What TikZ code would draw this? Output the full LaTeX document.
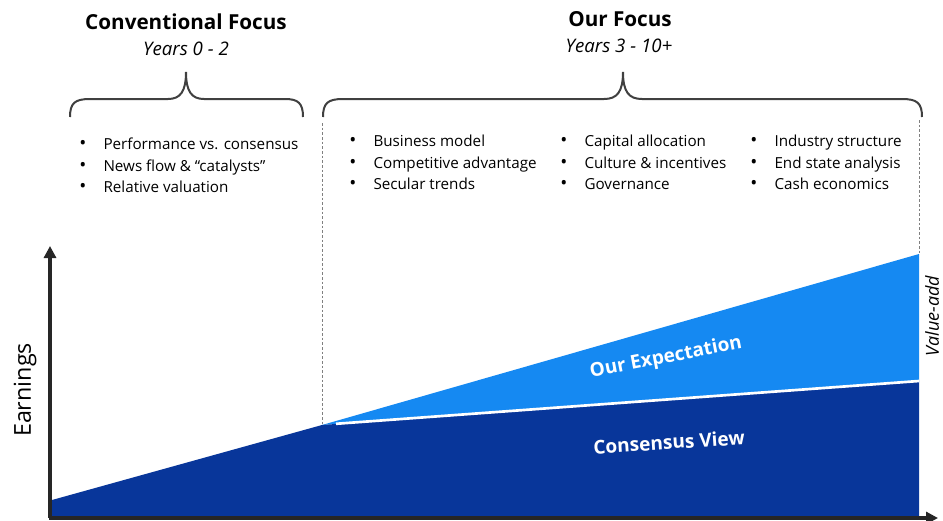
\documentclass[tikz,border=0pt]{standalone}
\usepackage{fontspec}
\setmainfont{Open Sans}
\usetikzlibrary{arrows.meta}
\definecolor{darkblue}{HTML}{08369A}
\definecolor{lightblue}{HTML}{1589F2}
\definecolor{axisgray}{HTML}{262626}
\definecolor{bracegray}{HTML}{404040}
\newcommand\bitem{\makebox[18.2pt][l]{\fontsize{14}{14}\selectfont •}}
\begin{document}
\begin{tikzpicture}[x=0.75pt,y=-0.75pt,
  title/.style={font=\fontsize{15.5}{18}\selectfont\bfseries},
  sub/.style={font=\fontsize{14}{16}\selectfont\itshape},
  bullets/.style={font=\fontsize{11.4}{16.1}\selectfont, align=left, anchor=north west, inner sep=0pt},
  brace/.style={draw=bracegray, line width=1.5pt},
  guide/.style={draw=gray, dashed, line width=0.5pt, dash pattern=on 2pt off 1.5pt},
  axis/.style={draw=axisgray, line width=3pt, -{Triangle[length=9pt,width=9pt]}},
  inlabel/.style={font=\fontsize{14.3}{16}\selectfont\bfseries, text=white}
]
\useasboundingbox (0,0) rectangle (943,521);
% headings
\node[title] (ct) at (186,22) {Conventional Focus};
\node[sub] (cs) at (186,49) {Years 0 - 2};
\node[title] (ot) at (620,19) {Our Focus};
\node[sub] (os) at (619,46) {Years 3 - 10+};
% braces
\draw[brace] (70,117) .. controls (70,103) and (75,99) .. (90,99) -- (168,99) .. controls (180,99) and (186,92) .. (186,72) .. controls (186,92) and (192,99) .. (204,99) -- (285,99) .. controls (298,99) and (303,103) .. (303,117);
\draw[brace] (323,117) .. controls (323,103) and (328,99) .. (343,99) -- (604,99) .. controls (617,99) and (623,92) .. (623,72) .. controls (623,92) and (629,99) .. (642,99) -- (902,99) .. controls (917,99) and (922,103) .. (922,117);
% bullet lists
\node[bullets] (b1) at (79,138) {\bitem Performance vs. consensus\\\bitem News flow \& “catalysts”\\\bitem Relative valuation};
\node[bullets] (b2) at (349,135) {\bitem Business model\\\bitem Competitive advantage\\\bitem Secular trends};
\node[bullets] (b3) at (560,135) {\bitem Capital allocation\\\bitem Culture \& incentives\\\bitem Governance};
\node[bullets] (b4) at (750,135) {\bitem Industry structure\\\bitem End state analysis\\\bitem Cash economics};
% chart coordinates
\coordinate (o) at (50,518);
\coordinate (ytip) at (50,246);
\coordinate (xtip) at (938,518);
\coordinate (s) at (52,500);
\coordinate (k) at (322,425);
\coordinate (ce) at (919,381);
\coordinate (ee) at (919,254);
\coordinate (be) at (919,518);
% areas
\fill[lightblue] (k) -- (ee) -- (ce) -- cycle;
\fill[darkblue] (50,518) -- (s) -- (k) -- (ce) -- (be) -- cycle;
\draw[white, line width=2pt] (336,423.8) -- (ce);
% dashed guides
\draw[guide] (322,123) -- (k);
\draw[guide] (919,120) -- (ee);
% axes
\draw[axis] (o) -- (ytip);
\draw[axis] (48.5,518) -- (xtip);
% labels
\node[font=\fontsize{17.5}{20}\selectfont, rotate=90] (earn) at (25,390) {Earnings};
\node[font=\fontsize{13.5}{15}\selectfont\itshape, rotate=90, inner sep=1pt] (va) at (932,316) {Value-add};
\node[inlabel, rotate=11] (exp) at (666,358) {Our Expectation};
\node[inlabel, rotate=3.7] (cons) at (669,442) {Consensus View};
\end{tikzpicture}
\end{document}
